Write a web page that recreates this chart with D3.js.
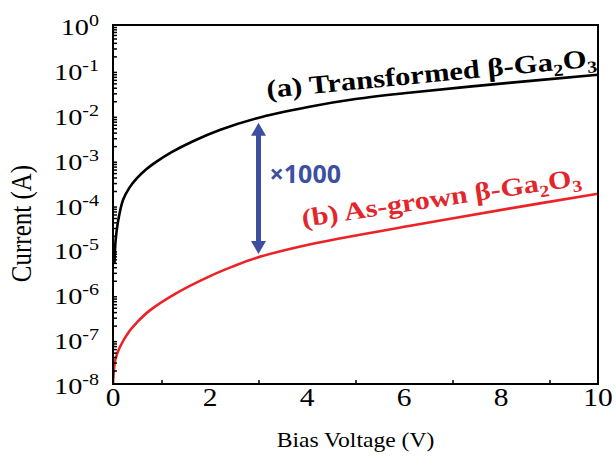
<!DOCTYPE html>
<html>
<head>
<meta charset="utf-8">
<script src="https://cdn.jsdelivr.net/npm/d3@7"></script>
<style>
  html, body { margin: 0; padding: 0; background: #fff; }
  svg { display: block; font-family: "Liberation Serif", "Times New Roman", serif; }
</style>
</head>
<body>
<div id="chart"></div>
<script>
// Data (current in A, bias in V)
const voltageTransformed = [0.03, 0.055, 0.1, 0.206, 0.33, 0.48, 0.68, 0.89, 1.2, 1.65, 2.2, 2.95, 4.05, 5, 6.1, 8.16, 10];
const currentTransformed = [5.0e-6, 1.62e-5, 3.98e-5, 1.26e-4, 2.29e-4, 3.72e-4, 6.03e-4, 8.9e-4, 1.45e-3,
  2.57e-3, 4.57e-3, 8.3e-3, 1.51e-2, 2.24e-2, 3.09e-2, 5.13e-2, 7.76e-2];

const voltageAsGrown = [0, 0.014, 0.05, 0.14, 0.34, 0.5, 0.76, 1.3, 1.99, 2.45, 2.95, 4.05, 6.1, 8.16, 10];
const currentAsGrown = [1.0e-8, 1.74e-8, 3.55e-8, 6.6e-8, 1.51e-7, 2.4e-7, 4.37e-7, 1.05e-6, 2.51e-6,
  4.07e-6, 6.46e-6, 1.29e-5, 3.31e-5, 8.1e-5, 1.74e-4];

const xTicks = [0, 2, 4, 6, 8, 10];
const xMinorTicks = [1, 3, 5, 7, 9];
const yExponents = [0, -1, -2, -3, -4, -5, -6, -7, -8];

// annotation: x1000 arrow
const arrowVoltage = 3.0;
const arrowTop = 6.6e-3;
const arrowBottom = 7.9e-6;

// Layout
const W = 616, H = 456;
const margin = { top: 25, right: 18, bottom: 72, left: 113 };
const SX = 1.18; // the reference's text is stretched horizontally

const svg = d3.select('#chart').append('svg')
  .attr('width', W).attr('height', H);

const x = d3.scaleLinear().domain([0, 10]).range([margin.left, W - margin.right]);
const y = d3.scaleLog().domain([1e-8, 1]).range([H - margin.bottom, margin.top]);

// minor ticks: 2..9 in each decade
const yMinor = [];
for (let e = -8; e < 0; e++) {
  for (let k = 2; k <= 9; k++) yMinor.push(k * Math.pow(10, e));
}

// curves
svg.append('clipPath').attr('id', 'plot-clip')
  .append('rect')
  .attr('x', x(0)).attr('y', y(1))
  .attr('width', x(10) - x(0)).attr('height', y(1e-8) - y(1));

const line = d3.line()
  .x(d => x(d[0]))
  .y(d => y(d[1]))
  .curve(d3.curveCatmullRom.alpha(0.5));

const plot = svg.append('g').attr('clip-path', 'url(#plot-clip)');

plot.append('path')
  .datum(d3.zip(voltageAsGrown, currentAsGrown))
  .attr('d', line)
  .attr('fill', 'none')
  .attr('stroke', '#ec2227')
  .attr('stroke-width', 2.6);

plot.append('path')
  .datum(d3.zip(voltageTransformed, currentTransformed))
  .attr('d', line)
  .attr('fill', 'none')
  .attr('stroke', '#000')
  .attr('stroke-width', 2.6);

// axes (ticks point inward)
const gx = svg.append('g').attr('transform', `translate(0,${y(1e-8)})`);
gx.call(d3.axisBottom(x).tickValues(xTicks).tickSize(-8).tickFormat(''));
gx.call(d3.axisBottom(x).tickValues(xMinorTicks).tickSize(-4).tickFormat(''));

const gy = svg.append('g').attr('transform', `translate(${x(0)},0)`);
gy.call(d3.axisLeft(y).tickValues(yExponents.map(e => Math.pow(10, e))).tickSize(-8).tickFormat(''));
gy.call(d3.axisLeft(y).tickValues(yMinor).tickSize(-4).tickFormat(''));

svg.selectAll('.domain').remove();
svg.selectAll('.tick line').attr('stroke', '#000').attr('stroke-width', 1.5);

// frame
svg.append('rect')
  .attr('x', x(0)).attr('y', y(1))
  .attr('width', x(10) - x(0)).attr('height', y(1e-8) - y(1))
  .attr('fill', 'none').attr('stroke', '#000').attr('stroke-width', 2);

// x tick labels
svg.append('g').selectAll('text')
  .data(xTicks)
  .join('text')
  .attr('transform', d => `translate(${x(d)},${y(1e-8) + 22}) scale(${SX},1)`)
  .attr('text-anchor', 'middle')
  .attr('font-size', 25)
  .text(d => d);

// y tick labels with superscript exponent
const yl = svg.append('g').selectAll('text')
  .data(yExponents)
  .join('text')
  .attr('transform', d => `translate(${x(0) - 14},${y(Math.pow(10, d)) + 10}) scale(${SX},1)`)
  .attr('text-anchor', 'end')
  .attr('font-size', 24);
yl.append('tspan').text('10');
yl.append('tspan').attr('dy', -9).attr('font-size', 17).text(d => d === 0 ? '0' : '-' + Math.abs(d));

// axis titles
svg.append('text')
  .attr('transform', `translate(${(x(0) + x(10)) / 2},447) scale(${SX},1)`)
  .attr('text-anchor', 'middle')
  .attr('font-size', 20)
  .text('Bias Voltage (V)');

svg.append('text')
  .attr('transform', `translate(31,${(y(1) + y(1e-8)) / 2 + 19}) scale(${SX},1) rotate(-90)`)
  .attr('text-anchor', 'middle')
  .attr('font-size', 25)
  .text('Current (A)');

// curve labels
function chemLabel(g, prefix, color, size) {
  const t = g.append('text')
    .attr('font-size', size)
    .attr('font-weight', 'bold')
    .attr('fill', color);
  t.append('tspan').text(prefix + ' β-Ga');
  t.append('tspan').attr('font-size', size * 0.65).attr('dy', size * 0.22).text('2');
  t.append('tspan').attr('dy', -size * 0.22).text('O');
  t.append('tspan').attr('font-size', size * 0.65).attr('dy', size * 0.22).text('3');
  return t;
}

chemLabel(
  svg.append('g').attr('transform', `translate(${x(3.18)},${y(0.0236)}) rotate(-5.5) scale(${SX},1)`),
  '(a) Transformed', '#000', 26);

chemLabel(
  svg.append('g').attr('transform', `translate(${x(3.92)},${y(3.16e-5)}) rotate(-8.5) scale(${SX},1)`),
  '(b) As-grown', '#e3262b', 25.5);

// x1000 arrow
const ax = x(arrowVoltage), a1 = y(arrowTop), a2 = y(arrowBottom);
const blue = '#3d4fa1';
const head = 13, hw = 7.5;
svg.append('line')
  .attr('x1', ax).attr('x2', ax)
  .attr('y1', a1 + head - 1).attr('y2', a2 - head + 1)
  .attr('stroke', blue).attr('stroke-width', 5);
svg.append('path')
  .attr('d', `M${ax},${a1} L${ax - hw},${a1 + head} L${ax + hw},${a1 + head} Z`)
  .attr('fill', blue);
svg.append('path')
  .attr('d', `M${ax},${a2} L${ax - hw},${a2 - head} L${ax + hw},${a2 - head} Z`)
  .attr('fill', blue);

svg.append('text')
  .attr('x', ax + 11)
  .attr('y', 183)
  .attr('font-family', '"Open Sans", sans-serif')
  .attr('font-weight', 'bold')
  .attr('font-size', 25)
  .attr('fill', blue)
  .text('×1000');
</script>
</body>
</html>
